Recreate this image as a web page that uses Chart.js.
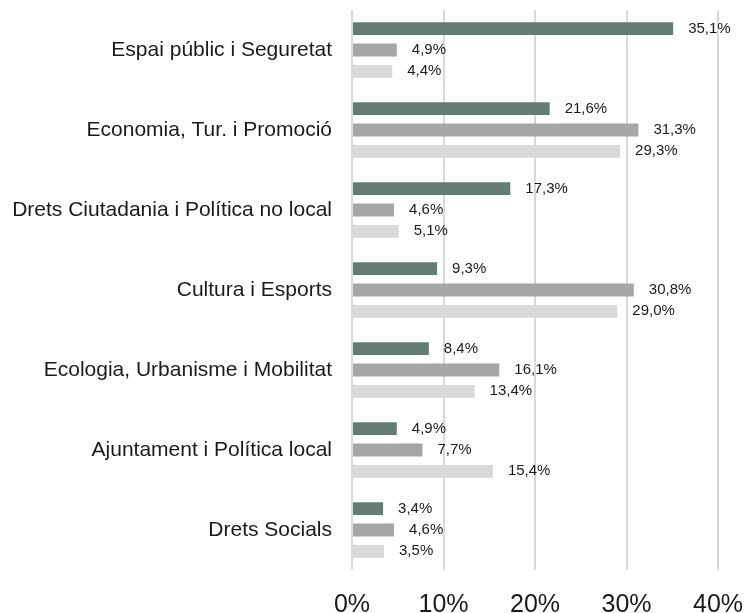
<!DOCTYPE html>
<html>
<head>
<meta charset="utf-8">
<script src="https://cdn.jsdelivr.net/npm/chart.js@4.4.1/dist/chart.umd.min.js"></script>
<style>
  html, body { margin: 0; padding: 0; background: #fff; }
  #wrap { width: 746px; height: 613px; }
</style>
</head>
<body>
<div id="wrap"><canvas id="chart"></canvas></div>
<script>
  var categories = [
      "Espai públic i Seguretat",
      "Economia, Tur. i Promoció",
      "Drets Ciutadania i Política no local",
      "Cultura i Esports",
      "Ecologia, Urbanisme i Mobilitat",
      "Ajuntament i Política local",
      "Drets Socials"
  ];
  var serie1 = [35.1, 21.6, 17.3, 9.3, 8.4, 4.9, 3.4];
  var serie2 = [4.9, 31.3, 4.6, 30.8, 16.1, 7.7, 4.6];
  var serie3 = [4.4, 29.3, 5.1, 29.0, 13.4, 15.4, 3.5];
  var xTicks = [0, 10, 20, 30, 40];

  var font = "'Liberation Sans', Arial, sans-serif";

  // values written at the end of each bar, with a comma as decimal mark
  var barLabels = {
      id: "barLabels",
      afterDatasetsDraw: function(chart) {
          var ctx = chart.ctx;
          ctx.save();
          ctx.font = "15px " + font;
          ctx.fillStyle = "#1a1a1a";
          ctx.textAlign = "left";
          ctx.textBaseline = "middle";
          chart.data.datasets.forEach(function(ds, i) {
              var meta = chart.getDatasetMeta(i);
              meta.data.forEach(function(bar, j) {
                  var txt = ds.data[j].toFixed(1).replace(".", ",") + "%";
                  ctx.fillText(txt, bar.x + 15, bar.y);
              });
          });
          ctx.restore();
      }
  };

  var chart = new Chart("chart", {
      type: "bar",
      data: {
          labels: categories,
          datasets: [
              { label: "Sèrie 1", data: serie1, backgroundColor: "#647d74" },
              { label: "Sèrie 2", data: serie2, backgroundColor: "#a6a6a6" },
              { label: "Sèrie 3", data: serie3, backgroundColor: "#d9d9d9" }
          ]
      },
      options: {
          indexAxis: "y",
          responsive: true,
          maintainAspectRatio: false,
          animation: false,
          categoryPercentage: 0.8,
          barPercentage: 0.6,
          layout: { padding: { top: 10, right: 28, left: 0, bottom: 0 } },
          plugins: {
              legend: { display: false },
              tooltip: { enabled: false }
          },
          scales: {
              x: {
                  min: 0,
                  max: 40,
                  afterBuildTicks: function(scale) {
                      scale.ticks = xTicks.map(function(v) { return { value: v }; });
                  },
                  afterFit: function(scale) {
                      scale.height = 43;
                      scale.paddingLeft = 0;
                      scale.paddingRight = 0;
                  },
                  grid: { color: "#d9d9d9", lineWidth: 2, drawTicks: false },
                  border: { display: false },
                  ticks: {
                      padding: 20,
                      color: "#1a1a1a",
                      font: { family: font, size: 25 },
                      callback: function(v) { return v + "%"; }
                  }
              },
              y: {
                  afterFit: function(scale) {
                      scale.width = 352;
                      scale.paddingTop = 0;
                      scale.paddingBottom = 0;
                  },
                  grid: { display: false, drawTicks: false },
                  border: { display: false },
                  ticks: {
                      padding: 20,
                      color: "#1a1a1a",
                      font: { family: font, size: 21 }
                  }
              }
          }
      },
      plugins: [barLabels]
  });
</script>
</body>
</html>
